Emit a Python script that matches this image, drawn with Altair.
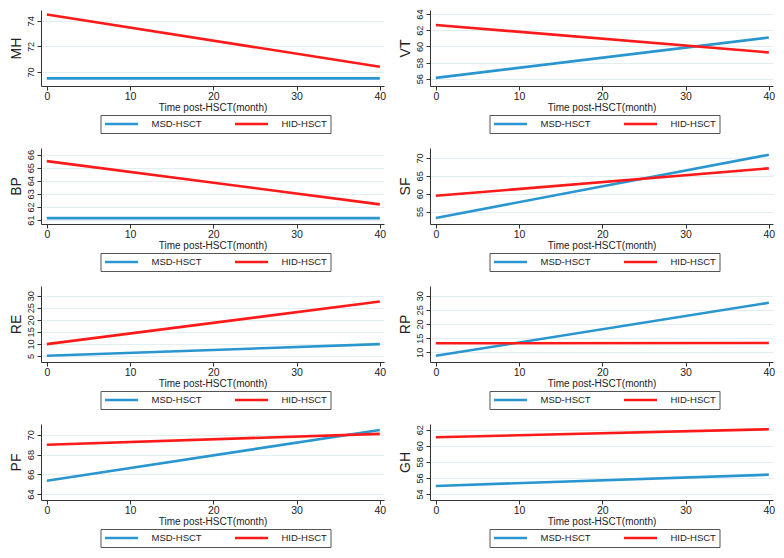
import altair as alt
import pandas as pd

# ---- data ----
time = [0, 40]
groups = ["MSD-HSCT", "HID-HSCT"]

MH_MSD = [69.5, 69.5];   MH_HID = [74.5, 70.4]
VT_MSD = [56.1, 61.1];   VT_HID = [62.65, 59.25]
BP_MSD = [61.15, 61.15]; BP_HID = [65.5, 62.2]
SF_MSD = [53.2, 70.9];   SF_HID = [59.4, 67.1]
RE_MSD = [5.1, 9.9];     RE_HID = [9.9, 27.6]
RP_MSD = [8.8, 27.5];    RP_HID = [13.2, 13.3]
PF_MSD = [65.35, 70.5];  PF_HID = [69.0, 70.1]
GH_MSD = [55.0, 56.4];   GH_HID = [61.05, 62.05]

x_ticks = [0, 10, 20, 30, 40]
MH_ticks = [70, 72, 74]
VT_ticks = [56, 58, 60, 62, 64]
BP_ticks = [61, 62, 63, 64, 65, 66]
SF_ticks = [55, 60, 65, 70]
RE_ticks = [5, 10, 15, 20, 25, 30]
RP_ticks = [10, 15, 20, 25, 30]
PF_ticks = [64, 66, 68, 70]
GH_ticks = [54, 56, 58, 60, 62]

# ---- styling ----
FONT = "Liberation Sans"
BLUE = "#2a96cf"
RED = "#ff1a1a"
W, H = 343, 76
TXT = "#222222"


def panel(name, msd, hid, ydom, yticks):
    rows = []
    for g, vals in zip(groups, [msd, hid]):
        for t, v in zip(time, vals):
            rows.append({"t": t, "v": v, "g": g})
    df = pd.DataFrame(rows)
    return (
        alt.Chart(df)
        .mark_line(strokeWidth=2.6, clip=True)
        .encode(
            x=alt.X(
                "t:Q",
                scale=alt.Scale(domain=[-0.7, 40.5], nice=False, zero=False),
                axis=alt.Axis(
                    values=x_ticks, title="Time post-HSCT(month)", grid=False,
                    labelFontSize=10.5, titleFontSize=10, titleFontWeight="normal",
                    labelFont=FONT, titleFont=FONT, labelColor=TXT, titleColor=TXT,
                    tickSize=4, labelPadding=1, titlePadding=1,
                    domainColor="#333333", tickColor="#333333", labelFlush=False,
                ),
            ),
            y=alt.Y(
                "v:Q",
                scale=alt.Scale(domain=ydom, nice=False, zero=False),
                axis=alt.Axis(
                    values=yticks, title=name, grid=True, gridColor="#e3eef1",
                    labelAngle=270, labelAlign="center", labelBaseline="bottom",
                    labelFontSize=9.2, titleFontSize=14, titleFontWeight="normal",
                    labelFont=FONT, titleFont=FONT, labelColor=TXT, titleColor=TXT,
                    tickSize=4, labelPadding=2, titlePadding=3,
                    domainColor="#333333", tickColor="#333333", labelFlush=False,
                    labelOverlap=False,
                ),
            ),
            color=alt.Color(
                "g:N",
                scale=alt.Scale(domain=groups, range=[BLUE, RED]),
                legend=alt.Legend(
                    orient="none", legendX=(W - 224) / 2, legendY=H + 29,
                    direction="horizontal", title=None,
                    symbolType="stroke", symbolSize=1089, symbolStrokeWidth=2.6,
                    clipHeight=12, labelOffset=12, columnPadding=31, padding=3,
                    strokeColor="#555555", fillColor="white",
                    labelFontSize=9.5, labelFont=FONT, labelColor=TXT,
                ),
            ),
        )
        .properties(width=W, height=H, view=alt.ViewBackground(stroke="transparent", strokeWidth=0))
    )


def row(a, b):
    return (
        alt.hconcat(a, b, spacing=12)
        .resolve_scale(x="independent", y="independent", color="independent")
        .resolve_legend(color="independent")
    )


chart = (
    alt.vconcat(
        row(panel("MH", MH_MSD, MH_HID, [68.9, 74.85], MH_ticks),
            panel("VT", VT_MSD, VT_HID, [55.1, 64.5], VT_ticks)),
        row(panel("BP", BP_MSD, BP_HID, [60.7, 66.5], BP_ticks),
            panel("SF", SF_MSD, SF_HID, [51.5, 72.8], SF_ticks)),
        row(panel("RE", RE_MSD, RE_HID, [2.5, 34], RE_ticks),
            panel("RP", RP_MSD, RP_HID, [6.6, 33.4], RP_ticks)),
        row(panel("PF", PF_MSD, PF_HID, [63.4, 71.1], PF_ticks),
            panel("GH", GH_MSD, GH_HID, [53.25, 62.7], GH_ticks)),
        spacing=14,
    )
    .resolve_scale(x="independent", y="independent", color="independent")
    .resolve_legend(color="independent")
    .properties(padding=0)
    .configure_view(stroke="transparent", strokeWidth=0)
    .configure(background="white")
)

chart.save("out.html", embed_options={"renderer": "svg", "actions": False})
